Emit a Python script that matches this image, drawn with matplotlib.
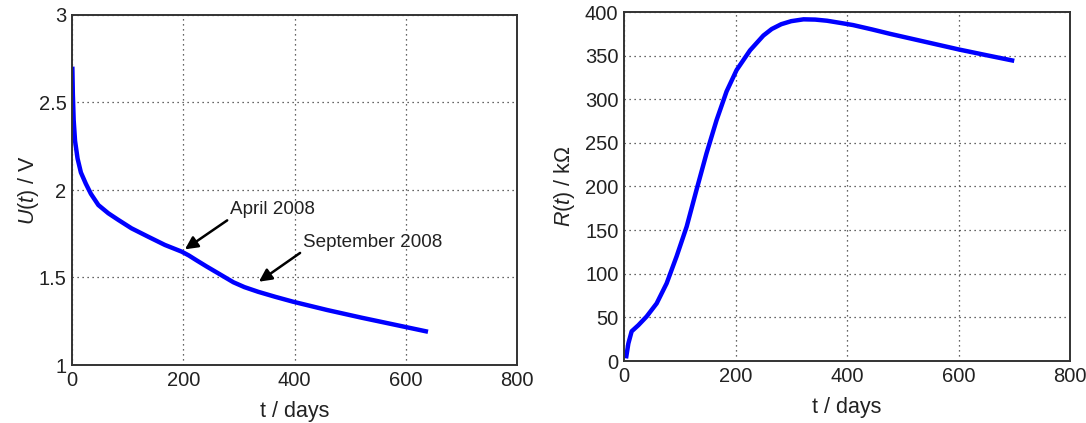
import matplotlib
matplotlib.use("Agg")
import matplotlib.pyplot as plt

plt.rcParams['font.family'] = ['Liberation Sans', 'DejaVu Sans']
plt.rcParams['mathtext.fontset'] = 'custom'
plt.rcParams['mathtext.rm'] = 'Liberation Sans'
plt.rcParams['mathtext.it'] = 'Liberation Sans:italic'

# Left panel: voltage U(t)
u_days = [0.6, 1.5, 3.0, 5.5, 10, 16, 25, 34, 47.4, 65.3, 83.3, 107, 137, 167, 197,
          210, 224, 242, 265, 290, 310, 335, 365, 397, 459, 521, 582, 640]
u_volts = [2.705, 2.55, 2.40, 2.28, 2.18, 2.10, 2.035, 1.978, 1.914, 1.867, 1.829, 1.781,
           1.733, 1.686, 1.648, 1.626, 1.598, 1.563, 1.52, 1.473, 1.445, 1.418, 1.39, 1.362,
           1.314, 1.270, 1.229, 1.19]

# Right panel: resistance R(t)
r_days = [3.6, 7.8, 13.7, 25.7, 40.6, 58.6, 76.5, 94.4, 112.4, 130, 148, 166, 184, 202, 226,
          250, 265, 282, 300, 322, 343, 364, 388, 411, 445, 477, 539, 601, 650, 700]
r_kohm = [3, 20, 34, 41, 51, 66, 89, 120, 154, 196, 238, 276, 309, 333.5, 356, 373, 380.5,
          386, 389.5, 391.6, 391.3, 390, 387.5, 385, 380, 375, 366, 357, 350.5, 344]

annotations = ["April 2008", "September 2008"]
annot_tip = [(203, 1.661), (336, 1.476)]
annot_text = [(284, 1.886), (415, 1.70)]

x_ticks = [0, 200, 400, 600, 800]
u_ticks = [1, 1.5, 2, 2.5, 3]
r_ticks = [0, 50, 100, 150, 200, 250, 300, 350, 400]

fig = plt.figure(figsize=(10.86, 4.23), dpi=100)
ax1 = fig.add_axes([72/1086, 1-365/423, 445/1086, 350/423])
ax2 = fig.add_axes([624/1086, 1-361/423, 446/1086, 349/423])

def style(ax):
    for s in ax.spines.values():
        s.set_color('#333333')
        s.set_linewidth(1.4)
    ax.grid(True, linestyle=(0, (1, 3)), color='#333333', linewidth=0.9)
    ax.tick_params(direction='in', length=0, labelsize=14.5, pad=4, colors='#222222')
    ax.set_xlim(0, 800)
    ax.set_xticks(x_ticks)
    ax.set_xlabel('t / days', fontsize=15.5, color='#222222', labelpad=8)

ax1.plot(u_days, u_volts, color='#0000ff', lw=3.2, solid_capstyle='butt', solid_joinstyle='round')
style(ax1)
ax1.set_ylim(1, 3)
ax1.set_yticks(u_ticks)
ax1.set_yticklabels(['1', '1.5', '2', '2.5', '3'])
ax1.set_ylabel(r'$U(t)$ / V', fontsize=15.5, color='#222222', labelpad=-2)
for txt, tip, pos in zip(annotations, annot_tip, annot_text):
    ax1.annotate(txt, xy=tip, xytext=pos, fontsize=13.6, color='#222222',
                 va='center', ha='left',
                 arrowprops=dict(arrowstyle='-|>', color='black', lw=1.8,
                                 mutation_scale=19, shrinkA=0, shrinkB=0,
                                 relpos=(0, 0)))

ax2.plot(r_days, r_kohm, color='#0000ff', lw=3.2, solid_capstyle='butt', solid_joinstyle='round')
style(ax2)
ax2.set_ylim(0, 400)
ax2.set_yticks(r_ticks)
ax2.set_ylabel(r'$R(t)$ / k$\Omega$', fontsize=15.5, color='#222222', labelpad=6)

fig.savefig('out.png', dpi=100, facecolor='white')
